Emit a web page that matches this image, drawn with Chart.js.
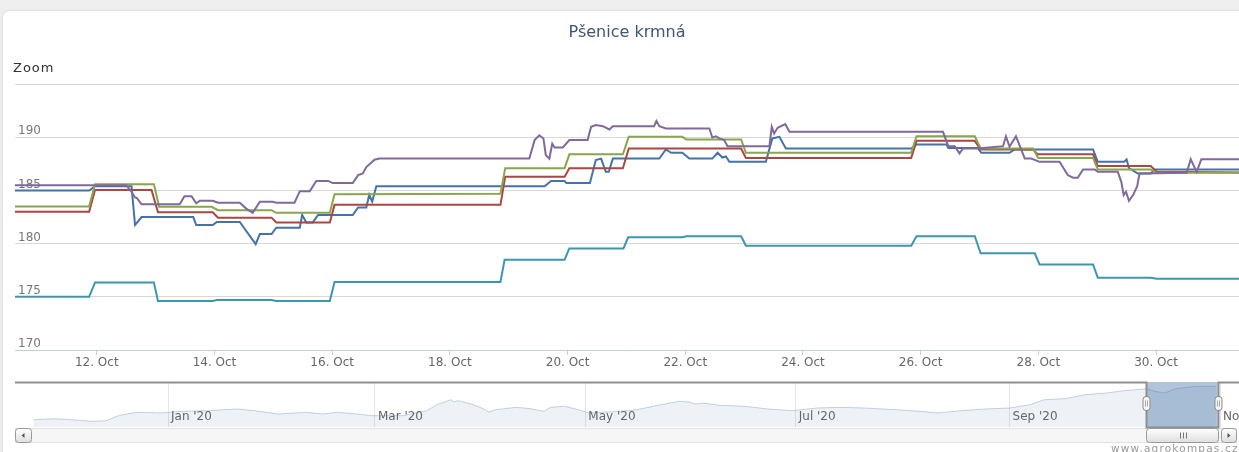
<!DOCTYPE html>
<html>
<head>
<meta charset="utf-8">
<title>Pšenice krmná</title>
<script src="https://cdn.jsdelivr.net/npm/chart.js@4/dist/chart.umd.min.js"></script>
<style>
  body { margin: 0; background: #efefef; overflow: hidden; width: 1239px; height: 452px; }
  #frame { position: absolute; left: 3px; top: 11px; width: 1300px; height: 500px; background: #fff;
           border-radius: 6px; box-shadow: 0 0 3px rgba(0,0,0,0.12); }
  canvas { position: absolute; left: 0; }
  #main { top: 0; }
  #nav { top: 372px; }
  .txt { position: absolute; font-family: "DejaVu Sans", sans-serif; white-space: nowrap; }
  #zoom { left: 13px; top: 60px; font-size: 13px; color: #333; letter-spacing: 1px; }
  #credit { left: 1111px; top: 442px; font-size: 10.5px; color: #999; letter-spacing: 1.2px; }
</style>
</head>
<body>
<div id="frame"></div>
<canvas id="main" width="1239" height="380"></canvas>
<canvas id="nav" width="1239" height="80"></canvas>
<div class="txt" id="zoom">Zoom</div>
<div class="txt" id="credit">www.agrokompas.cz</div>
<script>
// main chart: x = day of October 2020 (fractional)
const xMin = 10.61, xMax = 31.41;
const xTickDays = [12, 14, 16, 18, 20, 22, 24, 26, 28, 30];
const yTicks = [170, 175, 180, 185, 190, 195];

const blueT = [10.61, 11.87, 11.97, 12.59, 12.65, 12.76, 13.64, 13.69, 13.97, 14.04, 14.43, 14.70, 14.77, 14.97, 15.05, 15.45, 15.49, 15.56, 15.67, 15.76, 16.35, 16.44, 16.58, 16.63, 16.68, 16.75,
  19.61, 19.72, 19.95, 19.98, 20.38, 20.48, 20.57, 20.65, 20.70, 20.77, 21.56, 21.67, 21.76, 21.95, 22.07, 22.46, 22.55, 22.63, 22.69, 22.75, 23.37, 23.48, 23.60, 23.71,
  25.84, 25.93, 26.44, 26.47, 26.97, 27.03, 27.51, 27.60, 28.93, 29.01, 29.46, 29.50, 29.54, 29.69, 29.91, 29.98, 31.41];
const blueV = [185.0, 185.0, 185.4, 185.4, 181.75, 182.5, 182.5, 181.75, 181.75, 182.05, 182.05, 179.96, 180.9, 180.9, 181.5, 181.5, 182.7, 182.0, 182.0, 182.7, 182.7, 183.4, 183.4, 184.6, 183.95, 185.4,
  185.4, 185.9, 185.9, 185.7, 185.7, 187.86, 188.0, 186.76, 186.76, 188.0, 188.0, 188.86, 188.55, 188.55, 188.0, 188.0, 188.55, 188.1, 188.2, 187.7, 187.7, 189.9, 190.05, 188.95,
  188.95, 189.33, 189.33, 189.0, 189.0, 188.55, 188.55, 188.86, 188.86, 187.7, 187.7, 187.93, 187.1, 186.6, 186.6, 186.98, 186.98];

const redT = [10.61, 11.87, 11.97, 12.93, 13.04, 13.97, 14.06, 14.97, 15.05, 15.96, 16.04, 18.86, 18.94, 19.95, 20.03, 20.94, 21.04, 22.95, 23.03,
  25.84, 25.93, 26.92, 27.02, 27.91, 27.99, 28.93, 29.01, 29.91, 30.01, 31.41];
const redV = [183.0, 183.0, 185.04, 185.04, 182.95, 182.95, 182.45, 182.45, 182.0, 182.0, 183.65, 183.65, 186.3, 186.3, 187.1, 187.1, 188.95, 188.95, 188.07,
  188.07, 189.67, 189.67, 188.86, 188.86, 188.4, 188.4, 187.3, 187.3, 186.76, 186.7];

const greenT = [10.61, 11.87, 11.97, 12.97, 13.06, 13.95, 14.06, 14.97, 15.05, 15.96, 16.04, 18.86, 18.94, 19.95, 20.03, 20.94, 21.04, 21.95, 22.02, 22.95, 23.03,
  25.84, 25.93, 26.92, 27.02, 27.91, 28.00, 28.93, 29.01, 29.91, 30.01, 31.41];
const greenV = [183.5, 183.5, 185.6, 185.6, 183.47, 183.47, 183.15, 183.15, 182.9, 182.9, 184.66, 184.7, 187.1, 187.1, 188.4, 188.4, 190.05, 190.05, 189.8, 189.8, 188.55,
  188.55, 190.1, 190.1, 188.95, 188.95, 188.07, 188.07, 186.98, 186.98, 186.67, 186.67];

const purpleT = [10.61, 12.50, 12.59, 12.65, 12.68, 12.76, 13.41, 13.49, 13.61, 13.69, 13.75, 13.97, 14.06, 14.43, 14.54, 14.65, 14.77, 14.99, 15.05, 15.36, 15.45, 15.62, 15.73, 15.93, 16.01, 16.35, 16.44, 16.52, 16.58, 16.72, 16.80,
  19.35, 19.44, 19.52, 19.59, 19.63, 19.69, 19.74, 19.78, 19.92, 20.03, 20.34, 20.40, 20.48, 20.60, 20.71, 20.77, 21.47, 21.51, 21.56, 21.67, 22.41, 22.46, 22.52, 22.58, 22.66, 22.72, 23.43, 23.47, 23.51, 23.57, 23.70, 23.77,
  26.38, 26.47, 26.58, 26.66, 26.72, 26.97, 27.40, 27.45, 27.51, 27.62, 27.77, 27.88, 28.02, 28.36, 28.50, 28.59, 28.67, 28.76, 28.96, 29.01, 29.35, 29.41, 29.45, 29.49, 29.54, 29.61, 29.68, 29.72, 30.52, 30.59, 30.69, 30.77, 31.41];
const purpleV = [185.5, 185.5, 184.88, 184.35, 184.3, 183.7, 183.7, 184.47, 184.47, 183.8, 184.04, 184.04, 183.85, 183.85, 183.3, 182.9, 183.95, 183.95, 183.85, 183.85, 184.94, 184.94, 185.9, 185.9, 185.7, 185.7, 186.45, 186.6, 187.2, 187.9, 188.0,
  188.0, 189.74, 190.2, 189.9, 188.33, 188.0, 189.4, 189.05, 189.05, 189.74, 189.74, 190.99, 191.15, 191.05, 190.74, 191.05, 191.05, 191.55, 191.05, 190.83, 190.83, 189.99, 190.1, 189.9, 189.75, 189.17, 189.17, 190.99, 190.37, 190.9, 191.24, 190.52,
  190.52, 189.17, 189.17, 188.49, 188.95, 188.95, 189.17, 190.1, 189.12, 190.1, 188.0, 188.0, 187.7, 187.7, 186.45, 186.2, 186.2, 186.98, 186.98, 186.76, 186.76, 185.82, 184.57, 184.88, 184.04, 184.57, 185.41, 186.6, 186.67, 187.93, 186.76, 187.93, 187.93];

const tealT = [10.61, 11.87, 11.97, 12.97, 13.04, 13.97, 14.04, 14.97, 15.05, 15.96, 16.04, 18.86, 18.93, 19.95, 20.03, 20.95, 21.03, 21.95, 22.02, 22.95, 23.03,
  25.84, 25.93, 26.92, 27.02, 27.94, 28.02, 28.93, 29.01, 29.91, 30.01, 31.41];
const tealV = [175.0, 175.0, 176.35, 176.35, 174.6, 174.6, 174.7, 174.7, 174.6, 174.6, 176.4, 176.4, 178.5, 178.5, 179.55, 179.55, 180.6, 180.6, 180.7, 180.7, 179.8,
  179.8, 180.7, 180.7, 179.1, 179.1, 178.05, 178.05, 176.8, 176.8, 176.7, 176.7];

// navigator: whole year of the first series
const navDates = ['2019-11-23', '2019-11-29', '2019-12-04', '2019-12-10', '2019-12-14', '2019-12-18', '2019-12-23', '2019-12-30',
  '2020-01-05', '2020-01-13', '2020-01-21', '2020-01-26', '2020-02-02', '2020-02-10', '2020-02-15', '2020-02-19', '2020-02-24', '2020-02-29',
  '2020-03-09', '2020-03-16', '2020-03-19', '2020-03-23', '2020-03-24', '2020-03-25', '2020-03-29', '2020-04-01', '2020-04-03', '2020-04-05',
  '2020-04-11', '2020-04-15', '2020-04-19', '2020-04-21', '2020-04-25', '2020-04-29', '2020-05-02', '2020-05-11', '2020-05-16', '2020-05-22',
  '2020-05-28', '2020-05-31', '2020-06-02', '2020-06-04', '2020-06-09', '2020-06-16', '2020-06-23', '2020-06-30', '2020-07-07', '2020-07-14',
  '2020-07-21', '2020-07-30', '2020-08-06', '2020-08-11', '2020-08-18', '2020-08-25', '2020-09-01', '2020-09-07', '2020-09-11', '2020-09-17',
  '2020-09-23', '2020-09-29', '2020-10-04', '2020-10-11', '2020-10-13', '2020-10-16', '2020-10-19', '2020-10-25', '2020-10-31'];
const navValues = [157.0, 157.9, 157.0, 155.4, 156.0, 161.2, 164.0, 163.4,
  165.0, 165.6, 167.2, 165.6, 162.4, 164.0, 162.4, 164.0, 162.7, 160.8,
  160.8, 165.6, 171.3, 176.0, 173.9, 175.1, 171.9, 168.1, 164.3, 166.5,
  168.8, 167.5, 165.0, 168.8, 169.8, 166.5, 163.4, 165.0, 166.5, 170.7,
  174.5, 173.9, 171.9, 172.9, 170.7, 169.8, 167.2, 165.6, 168.1, 168.8,
  168.1, 166.5, 165.0, 163.4, 165.6, 167.2, 168.1, 171.3, 176.0, 177.0,
  180.8, 182.4, 184.6, 186.5, 184.1, 182.4, 186.5, 188.8, 188.8];
const navTickDates = ['2020-01-01', '2020-03-01', '2020-05-01', '2020-07-01', '2020-09-01', '2020-11-01'];
const navTickLabels = ["Jan '20", "Mar '20", "May '20", "Jul '20", "Sep '20", "Nov '20"];

// days since 1 Jan 2020
function dayOf(s) {
  const p = s.split('-');
  return (Date.UTC(+p[0], +p[1] - 1, +p[2]) - Date.UTC(2020, 0, 1)) / 864e5;
}
const octOffset = dayOf('2020-10-01') - 1;

function pts(ts, vs) {
  return ts.map((t, i) => ({ x: t, y: vs[i] }));
}
function line(data, color, order) {
  return { data: data, borderColor: color, borderWidth: 2, pointRadius: 0, tension: 0, fill: false, order: order };
}

const font = "'DejaVu Sans', sans-serif";

new Chart(document.getElementById('main'), {
  type: 'line',
  data: {
    datasets: [
      line(pts(blueT, blueV), '#4572A7', 5),
      line(pts(redT, redV), '#AA4643', 4),
      line(pts(greenT, greenV), '#89A54E', 3),
      line(pts(purpleT, purpleV), '#80699B', 2),
      line(pts(tealT, tealV), '#3D96AE', 1)
    ]
  },
  options: {
    responsive: false,
    animation: false,
    events: [],
    layout: { padding: { left: 15, right: 0, top: 0, bottom: 0 } },
    plugins: {
      legend: { display: false },
      tooltip: { enabled: false },
      title: {
        display: true,
        text: 'Pšenice krmná',
        color: '#3E576F',
        font: { family: font, size: 16, weight: 'normal' },
        padding: { top: 23, bottom: 42 }
      }
    },
    scales: {
      x: {
        type: 'linear',
        min: xMin,
        max: xMax,
        afterBuildTicks: s => { s.ticks = xTickDays.map(v => ({ value: v })); },
        afterFit: s => { s.height = 30; s.paddingLeft = 0; s.paddingRight = 0; },
        grid: { drawOnChartArea: false, color: '#C0D0E0', tickLength: 5 },
        border: { color: '#C0D0E0' },
        ticks: {
          color: '#666',
          padding: 1,
          maxRotation: 0,
          autoSkip: false,
          font: { family: font, size: 12 },
          callback: v => v + '. Oct'
        }
      },
      y: {
        min: 170,
        max: 195,
        afterBuildTicks: s => { s.ticks = yTicks.map(v => ({ value: v })); },
        afterFit: s => { s.width = 0; },
        grid: { color: '#D8D8D8', drawTicks: false },
        border: { display: false },
        ticks: {
          mirror: true,
          padding: 3,
          labelOffset: -6,
          color: '#777',
          font: { family: font, size: 12 },
          callback: v => (v === 195 ? '' : String(v))
        }
      }
    }
  }
});

// navigator selection = main chart range
const selFrom = octOffset + xMin;
const selTo = octOffset + xMax - 0.05;

function roundRect(ctx, x, y, w, h, r) {
  ctx.beginPath();
  ctx.moveTo(x + r, y);
  ctx.arcTo(x + w, y, x + w, y + h, r);
  ctx.arcTo(x + w, y + h, x, y + h, r);
  ctx.arcTo(x, y + h, x, y, r);
  ctx.arcTo(x, y, x + w, y, r);
  ctx.closePath();
}

const navigatorChrome = {
  id: 'navigatorChrome',
  afterDatasetsDraw(chart) {
    const { ctx, chartArea: a, scales: { x } } = chart;
    ctx.save();
    // month labels inside the navigator, right of their grid lines
    ctx.font = "12px 'DejaVu Sans', sans-serif";
    ctx.fillStyle = '#666';
    ctx.textAlign = 'left';
    ctx.textBaseline = 'middle';
    navTickDates.forEach((d, i) => {
      ctx.fillText(navTickLabels[i], x.getPixelForValue(dayOf(d)) + 3, 45);
    });
    const x1 = x.getPixelForValue(selFrom), x2 = x.getPixelForValue(selTo);
    ctx.fillStyle = 'rgba(69,114,167,0.42)';
    ctx.fillRect(x1, a.top - 1, x2 - x1, a.bottom - a.top + 1);
    ctx.restore();
  },
  afterDraw(chart) {
    const { ctx, chartArea: a, scales: { x } } = chart;
    const x1 = Math.round(x.getPixelForValue(selFrom)) + 0.5;
    const x2 = Math.round(x.getPixelForValue(selTo)) + 0.5;
    const top = 10.5, bottom = a.bottom + 0.5;
    ctx.save();

    // scrollbar track
    const sTop = 56.5, sH = 14;
    ctx.fillStyle = '#f6f6f6';
    ctx.fillRect(15, sTop, 1221, sH);
    ctx.strokeStyle = '#e2e2e2';
    ctx.lineWidth = 1;
    ctx.strokeRect(15.5, sTop, 1221, sH);

    // outline around the selected range
    ctx.strokeStyle = '#8f8f8f';
    ctx.lineWidth = 2;
    ctx.beginPath();
    ctx.moveTo(15, top);
    ctx.lineTo(x1, top);
    ctx.lineTo(x1, bottom);
    ctx.lineTo(x2, bottom);
    ctx.lineTo(x2, top);
    ctx.lineTo(1239, top);
    ctx.stroke();

    // buttons and thumb
    const grad = (y0, y1) => {
      const g = ctx.createLinearGradient(0, y0, 0, y1);
      g.addColorStop(0, '#ffffff');
      g.addColorStop(1, '#dedede');
      return g;
    };
    ctx.lineWidth = 1;
    ctx.strokeStyle = '#999';
    [[15.5, 16], [1221.5, 15]].forEach(([bx, bw]) => {
      roundRect(ctx, bx, sTop, bw, sH, 3);
      ctx.fillStyle = grad(sTop, sTop + sH);
      ctx.fill();
      ctx.stroke();
    });
    ctx.fillStyle = '#555';
    ctx.beginPath();
    ctx.moveTo(21.5, 63.5); ctx.lineTo(24.5, 61); ctx.lineTo(24.5, 66); ctx.closePath(); ctx.fill();
    ctx.beginPath();
    ctx.moveTo(1230.5, 63.5); ctx.lineTo(1227.5, 61); ctx.lineTo(1227.5, 66); ctx.closePath(); ctx.fill();

    roundRect(ctx, x1, sTop, x2 - x1, sH, 3);
    ctx.fillStyle = grad(sTop, sTop + sH);
    ctx.fill();
    ctx.stroke();
    const cx = Math.round((x1 + x2) / 2) + 0.5;
    ctx.strokeStyle = '#777';
    [-3, 0, 3].forEach(d => {
      ctx.beginPath();
      ctx.moveTo(cx + d, 60.5);
      ctx.lineTo(cx + d, 66.5);
      ctx.stroke();
    });

    // handles
    [x1, x2].forEach(hx => {
      roundRect(ctx, hx - 3.5, 24.5, 7, 14, 3);
      ctx.fillStyle = '#f4f4f4';
      ctx.fill();
      ctx.strokeStyle = '#8a8a8a';
      ctx.stroke();
      ctx.beginPath();
      ctx.moveTo(hx - 1, 28.5); ctx.lineTo(hx - 1, 34.5);
      ctx.moveTo(hx + 1, 28.5); ctx.lineTo(hx + 1, 34.5);
      ctx.strokeStyle = '#aaa';
      ctx.stroke();
    });
    ctx.restore();
  }
};

new Chart(document.getElementById('nav'), {
  type: 'line',
  data: {
    datasets: [{
      data: navDates.map((d, i) => ({ x: dayOf(d), y: navValues[i] })),
      borderColor: 'rgba(69,114,167,0.3)',
      backgroundColor: 'rgba(69,114,167,0.09)',
      borderWidth: 1,
      pointRadius: 0,
      tension: 0,
      fill: 'start'
    }]
  },
  options: {
    responsive: false,
    animation: false,
    events: [],
    layout: { padding: { left: 32, right: 19, top: 11, bottom: 25 } },
    plugins: { legend: { display: false }, tooltip: { enabled: false } },
    scales: {
      x: {
        type: 'linear',
        min: -39.43,
        max: 305,
        afterBuildTicks: s => { s.ticks = navTickDates.map(d => ({ value: dayOf(d) })); },
        afterFit: s => { s.height = 0; s.paddingLeft = 0; s.paddingRight = 0; },
        grid: { color: '#e6e6e6', drawTicks: false },
        border: { display: false },
        ticks: { display: false }
      },
      y: { display: false, min: 150, max: 192 }
    }
  },
  plugins: [navigatorChrome]
});
</script>
</body>
</html>
